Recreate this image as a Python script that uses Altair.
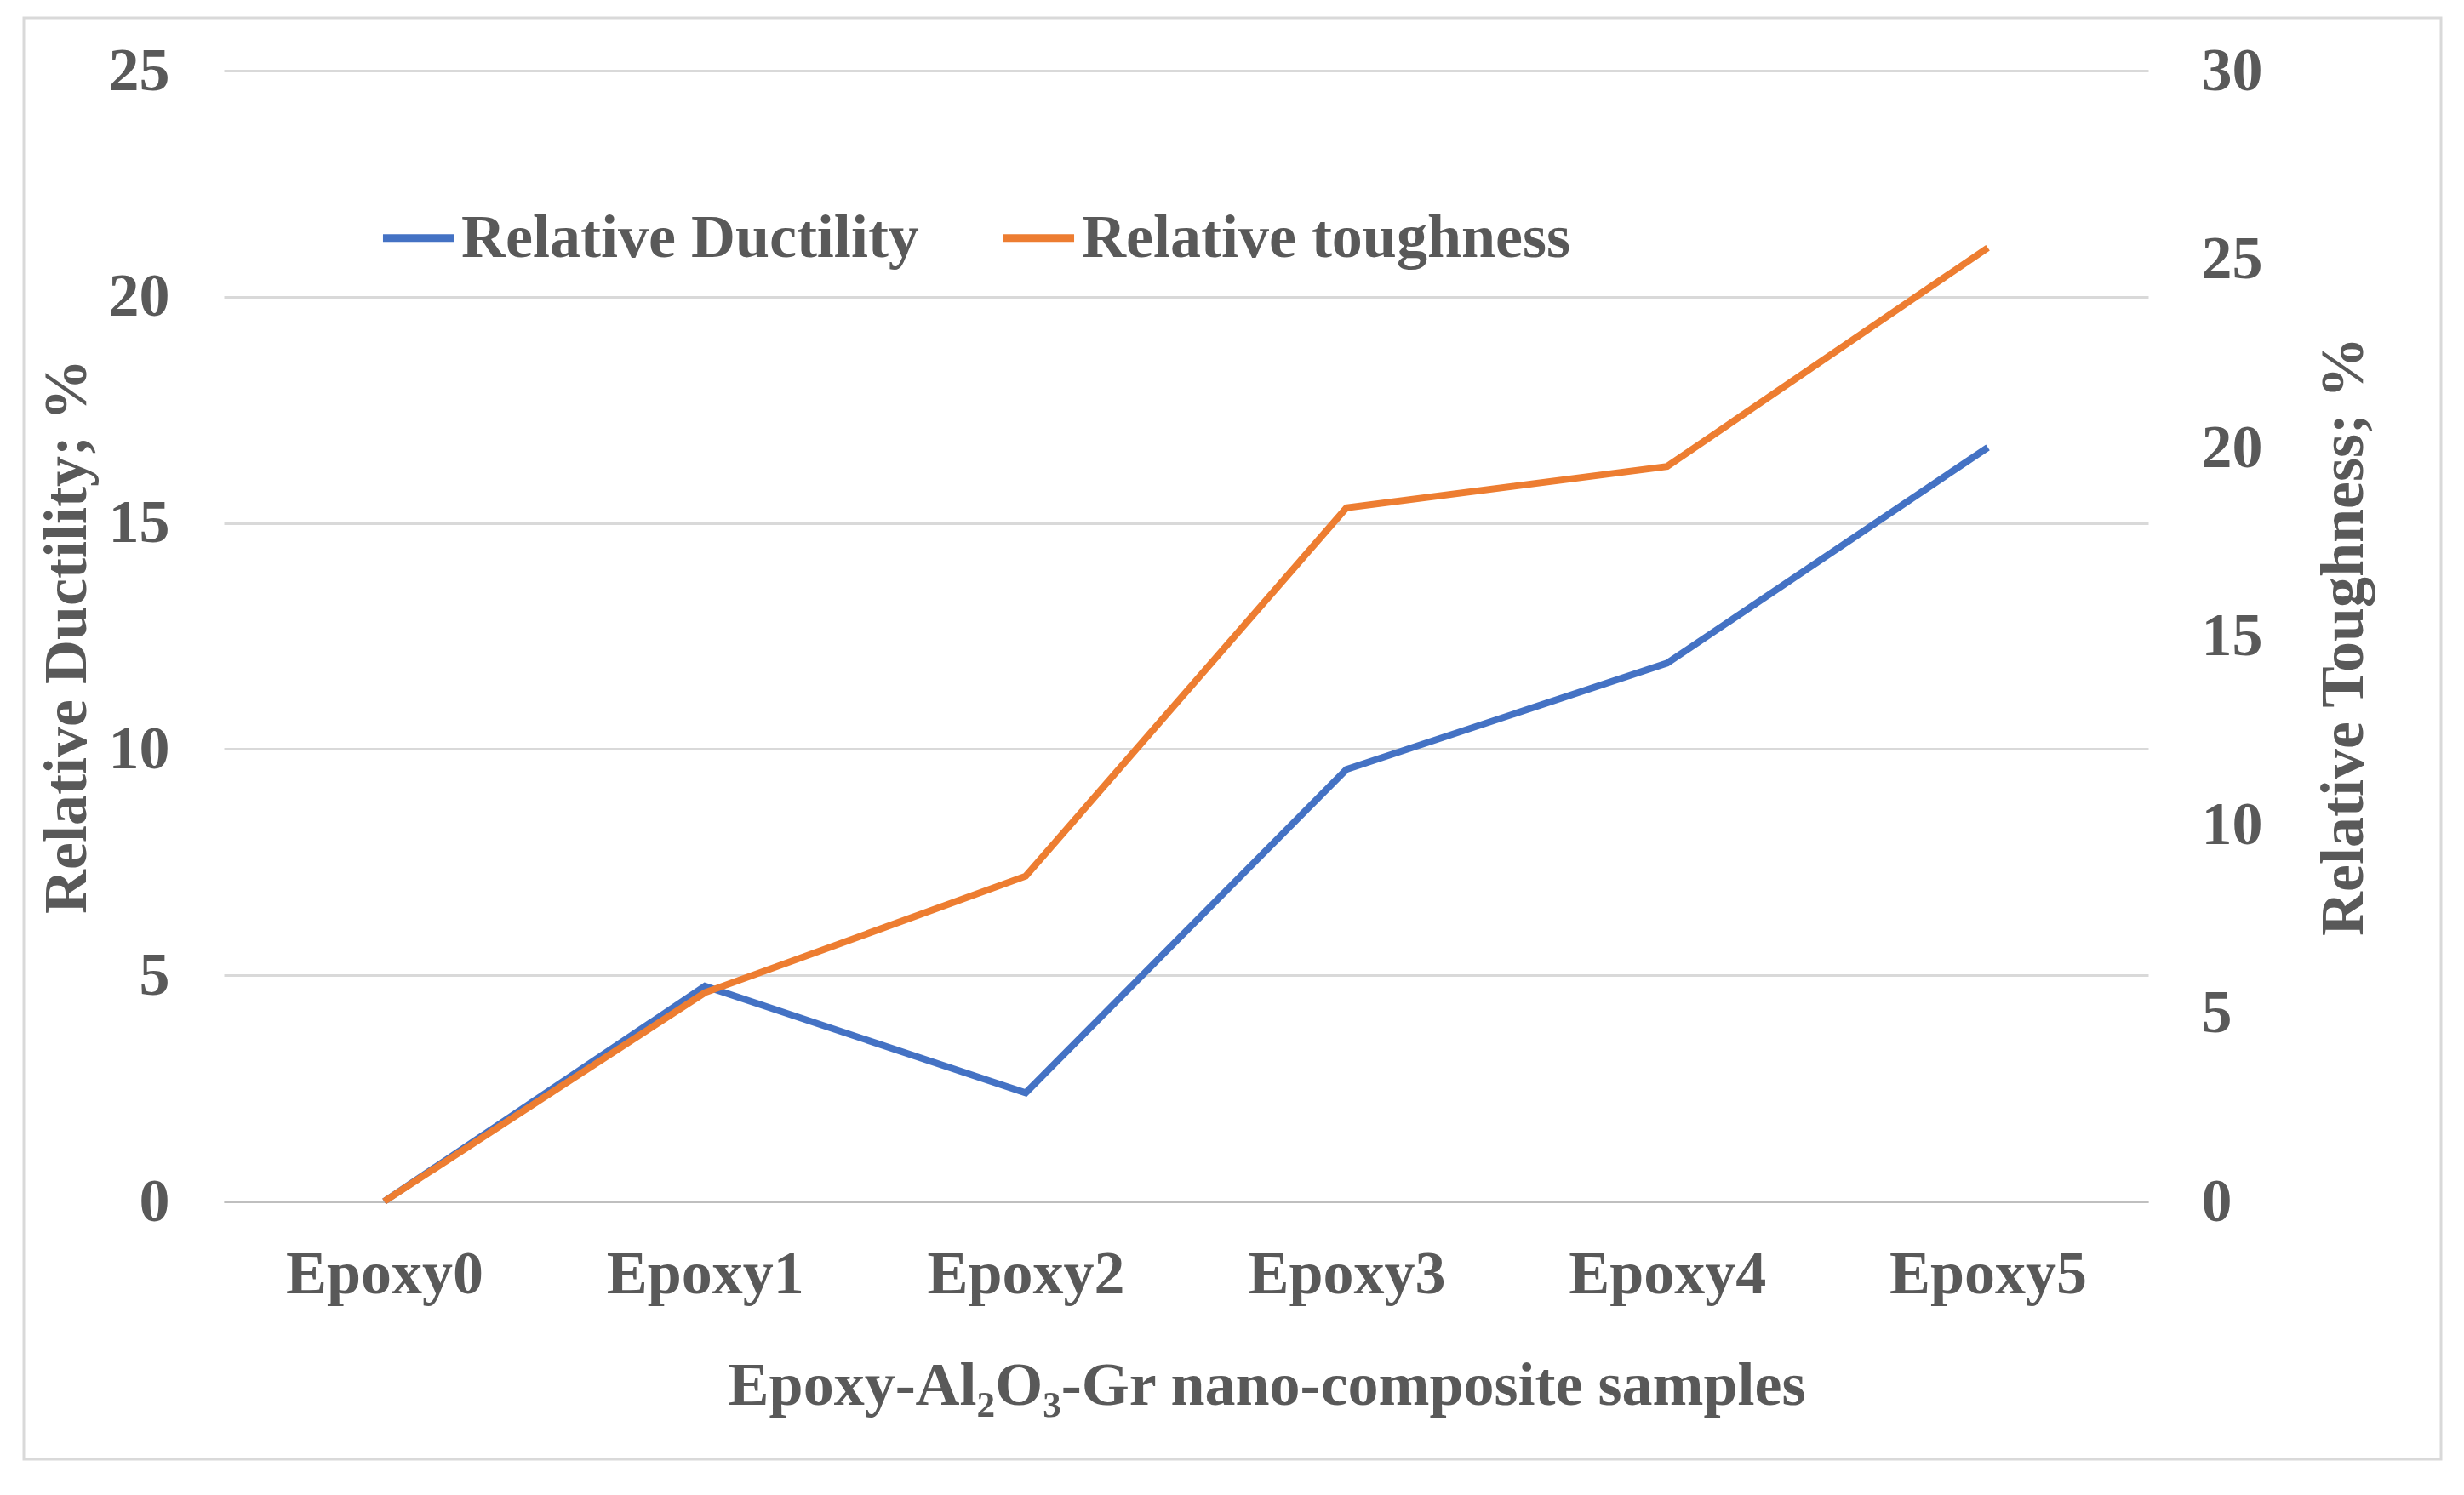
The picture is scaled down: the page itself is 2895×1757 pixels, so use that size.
import altair as alt
import pandas as pd

samples = ["Epoxy0", "Epoxy1", "Epoxy2", "Epoxy3", "Epoxy4", "Epoxy5"]
ductility = [0.0, 4.76, 2.40, 9.55, 11.9, 16.67]
toughness = [0.0, 5.54, 8.63, 18.4, 19.5, 25.3]
series_names = ["Relative Ductility", "Relative toughness"]
series_colors = ["#4472C4", "#ED7D31"]
left_ticks = [0, 5, 10, 15, 20, 25]
right_ticks = [0, 5, 10, 15, 20, 25, 30]

df = pd.DataFrame({
    "sample": samples * 2,
    "value": ductility + toughness,
    "series": [series_names[0]] * len(samples) + [series_names[1]] * len(samples),
})

FONT = "Liberation Serif"
GRAY = "#595959"
FS = 72

x_enc = alt.X(
    "sample:N", sort=samples,
    scale=alt.Scale(type="point", padding=0.5),
    axis=alt.Axis(title="Epoxy-Al₂O₃-Gr nano-composite samples", labelAngle=0, ticks=False,
                  domainColor="#bfbfbf", domainWidth=3, labelPadding=50, titlePadding=60,
                  grid=False, labelLimit=1000, titleX=1225, titleAlign="center"),
)
color_enc = alt.Color(
    "series:N",
    scale=alt.Scale(domain=series_names, range=series_colors),
    legend=alt.Legend(title=None, orient="none", legendX=182, legendY=150, direction="horizontal",
                      symbolType="stroke", symbolSize=6900, symbolStrokeWidth=9,
                      labelFont=FONT, labelFontSize=FS, labelFontWeight="bold", labelColor=GRAY,
                      columnPadding=80, labelOffset=4, labelLimit=1200),
)

duct = alt.Chart(df).transform_filter(alt.datum.series == series_names[0]).mark_line(strokeWidth=8).encode(
    x=x_enc,
    y=alt.Y("value:Q", scale=alt.Scale(domain=[0, 25], nice=False),
            axis=alt.Axis(title="Relative Ductility; %", values=left_ticks, orient="left", ticks=False,
                          domain=False, grid=True, gridColor="#d9d9d9", gridWidth=3,
                          labelPadding=64, titlePadding=12)),
    color=color_enc,
)

tough = alt.Chart(df).transform_filter(alt.datum.series == series_names[1]).mark_line(strokeWidth=8).encode(
    x=x_enc,
    y=alt.Y("value:Q", scale=alt.Scale(domain=[0, 30], nice=False),
            axis=alt.Axis(title="Relative Toughness; %", values=right_ticks, orient="right", ticks=False,
                          domain=False, grid=False, labelPadding=62, titlePadding=60,
                          titleAngle=270, titleBaseline="top")),
    color=color_enc,
)

frame = alt.Chart(pd.DataFrame({"f": [0]})).mark_rect(
    fill="transparent", stroke="#d9d9d9", strokeWidth=3
).encode(x=alt.value(-235), x2=alt.value(2605), y=alt.value(-62), y2=alt.value(1632))

chart = alt.layer(frame, duct, tough).resolve_scale(y="independent").properties(
    width=2261, height=1329,
    autosize=alt.AutoSizeParams(type="none"),
    padding={"left": 255, "top": 75, "right": 360, "bottom": 325},
    background="white",
).configure_view(stroke=None).configure_axis(
    labelFont=FONT, labelFontSize=FS, labelFontWeight="bold", labelColor=GRAY,
    titleFont=FONT, titleFontSize=FS, titleFontWeight="bold", titleColor=GRAY,
)

chart.save("out.html", embed_options={"renderer": "svg", "actions": False})
